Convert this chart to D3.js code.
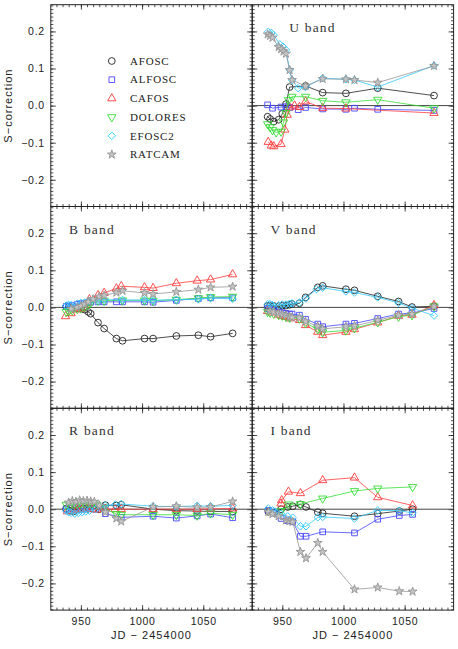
<!DOCTYPE html>
<html>
<head>
<meta charset="utf-8">
<script src="https://cdn.jsdelivr.net/npm/d3@7"></script>
<style>
  body { margin: 0; background: #fff; }
  svg { display: block; }
</style>
</head>
<body>
<svg id="chart" width="458" height="649"></svg>
<script>
"use strict";

//// data: [JD - 2454000, S-correction], series order follows `instruments`
const instruments = ["AFOSC", "ALFOSC", "CAFOS", "DOLORES", "EFOSC2", "RATCAM"];
const bandLabels = ["U band", "B band", "V band", "R band", "I band"];
const xTickValues = [950, 1000, 1050];
const yTickValues = [-0.2, -0.1, 0.0, 0.1, 0.2];

const bandU = [
    [[938,-0.030],[940,-0.036],[943,-0.043],[947,-0.038],[950,-0.022],[953,0.004],[956,0.050],[969,0.053],[983,0.035],[1002,0.033],[1028,0.047],[1074,0.027]],
    [[938,0.002],[942,-0.007],[949,-0.004],[953,-0.003],[956,-0.005],[963,-0.011],[969,-0.005],[983,-0.009],[1002,-0.010],[1009,-0.007],[1028,-0.010],[1074,-0.013]],
    [[938.5,-0.098],[941,-0.108],[943,-0.110],[949,-0.104],[952,-0.065],[954,-0.025],[956,-0.005],[960,0.000],[964,-0.004],[969,0.011],[983,-0.007],[1002,-0.008],[1074,-0.020]],
    [[938,-0.050],[940,-0.058],[942,-0.066],[945,-0.072],[949,-0.070],[951,-0.045],[953,-0.020],[955,0.015],[958,0.024],[969,0.024],[983,0.013],[1002,0.009],[1028,0.016],[1074,-0.007]],
    [[938.5,0.199],[941,0.196],[943,0.190],[948,0.165],[950.5,0.159],[953,0.150],[956,0.096],[958,0.069],[963,0.047],[969,0.050],[983,0.074],[1002,0.071],[1009,0.069],[1028,0.050],[1074,0.108]],
    [[938,0.192],[940,0.188],[942,0.183],[947,0.158],[949,0.152],[951,0.146],[953,0.140],[956,0.096],[958,0.069],[969,0.053],[983,0.072],[1002,0.071],[1009,0.069],[1028,0.062],[1074,0.107]]
];

const bandB = [
    [[938,0.003],[940,0.001],[943,-0.001],[947,-0.002],[950,-0.003],[953,-0.006],[956,-0.012],[958,-0.017],[964,-0.041],[969,-0.057],[979,-0.084],[984,-0.090],[1002,-0.084],[1009,-0.084],[1028,-0.077],[1046,-0.075],[1056,-0.079],[1074,-0.070]],
    [[938,0.002],[940,0.004],[943,0.005],[947,0.008],[950,0.010],[953,0.011],[956,0.013],[958,0.014],[964,0.015],[969,0.015],[979,0.015],[984,0.015],[1002,0.015],[1009,0.014],[1028,0.019],[1046,0.024],[1056,0.026],[1074,0.026]],
    [[937.5,-0.024],[942,-0.016],[947,-0.006],[950,-0.004],[953,0.006],[957,0.022],[964,0.033],[969,0.039],[979,0.051],[983,0.057],[1002,0.054],[1009,0.052],[1028,0.065],[1045,0.072],[1056,0.075],[1074,0.089]],
    [[938,-0.012],[940,-0.010],[943,-0.008],[947,-0.004],[950,-0.002],[953,0.001],[956,0.008],[958,0.013],[964,0.018],[969,0.018],[984,0.019],[1002,0.019],[1009,0.018],[1028,0.021],[1046,0.025],[1056,0.028],[1074,0.029]],
    [[938,0.005],[940,0.007],[942,0.006],[947,0.010],[950,0.012],[953,0.013],[956,0.016],[958,0.018],[964,0.020],[969,0.021],[984,0.020],[1002,0.020],[1009,0.019],[1028,0.021],[1046,0.022],[1056,0.025],[1074,0.023]],
    [[942,-0.004],[947,0.000],[950,0.004],[953,0.008],[956,0.015],[960,0.022],[965,0.029],[969,0.032],[979,0.040],[984,0.045],[1002,0.039],[1009,0.036],[1028,0.042],[1046,0.048],[1056,0.054],[1074,0.056]]
];

const bandV = [
    [[938,0.004],[940,0.005],[943,0.004],[947,0.003],[950,0.005],[953,0.005],[956,0.007],[958,0.009],[964,0.011],[969,0.027],[979,0.054],[983,0.058],[1002,0.049],[1009,0.046],[1028,0.030],[1045,0.016],[1056,0.001],[1074,0.003]],
    [[938,-0.003],[940,-0.006],[943,-0.008],[947,-0.012],[950,-0.014],[953,-0.016],[956,-0.018],[958,-0.018],[964,-0.021],[969,-0.032],[979,-0.045],[983,-0.052],[1002,-0.045],[1009,-0.043],[1028,-0.030],[1045,-0.018],[1056,-0.015],[1074,-0.003]],
    [[938,-0.010],[942,-0.014],[947,-0.020],[950,-0.024],[953,-0.026],[956,-0.030],[964,-0.034],[969,-0.048],[979,-0.066],[983,-0.075],[1002,-0.066],[1009,-0.059],[1028,-0.041],[1045,-0.023],[1056,-0.020],[1074,0.006]],
    [[938,-0.012],[940,-0.014],[943,-0.017],[947,-0.020],[950,-0.022],[953,-0.025],[956,-0.028],[964,-0.030],[969,-0.042],[979,-0.059],[983,-0.067],[1002,-0.062],[1009,-0.056],[1028,-0.040],[1045,-0.025],[1056,-0.021],[1074,0.003]],
    [[938,0.008],[940,0.009],[942,0.006],[947,0.006],[950,0.008],[953,0.008],[956,0.010],[958,0.011],[964,0.013],[969,0.024],[978,0.049],[983,0.053],[1002,0.043],[1009,0.040],[1028,0.027],[1045,0.012],[1056,-0.002],[1074,-0.022]],
    [[940,-0.010],[943,-0.013],[947,-0.016],[950,-0.019],[953,-0.022],[956,-0.025],[958,-0.027],[964,-0.028],[969,-0.038],[979,-0.051],[983,-0.058],[1002,-0.052],[1009,-0.050],[1028,-0.035],[1045,-0.021],[1056,-0.018],[1074,0.002]]
];

const bandR = [
    [[938,0.002],[941,-0.004],[944,-0.006],[948,0.000],[952,0.002],[956,0.003],[960,0.002],[965,0.000],[970,0.011],[979,0.010],[983,0.012],[1009,0.000],[1028,-0.004],[1045,-0.005],[1056,-0.006],[1074,-0.006]],
    [[938,0.000],[942,0.002],[946,0.004],[950,0.002],[954,0.000],[958,0.001],[962,0.000],[968,0.004],[970,-0.012],[983,-0.022],[1009,-0.019],[1028,-0.024],[1045,-0.018],[1056,-0.013],[1074,-0.023]],
    [[939,-0.006],[943,-0.004],[947,-0.002],[951,0.000],[955,0.001],[959,0.000],[963,-0.001],[970,0.001],[978,0.000],[983,0.000],[1009,0.000],[1028,0.000],[1045,0.000],[1056,0.001],[1074,0.002]],
    [[938,0.012],[941,0.010],[944,0.013],[947,0.014],[950,0.015],[953,0.016],[956,0.017],[959,0.014],[963,0.012],[968,0.004],[979,-0.013],[983,-0.015],[1009,-0.015],[1028,-0.015],[1045,-0.017],[1056,-0.011],[1074,-0.015]],
    [[938,-0.004],[940,-0.008],[942,-0.010],[945,-0.012],[948,-0.010],[951,-0.008],[954,-0.006],[957,-0.004],[962,0.000],[970,0.010],[978,0.012],[983,0.014],[1009,0.008],[1028,0.007],[1045,0.009],[1056,0.008],[1074,0.010]],
    [[940,0.018],[943,0.022],[946,0.020],[949,0.024],[952,0.022],[955,0.023],[958,0.021],[961,0.020],[965,0.010],[970,-0.008],[979,-0.025],[983,-0.033],[1009,0.006],[1028,0.008],[1045,0.005],[1056,0.006],[1074,0.021]]
];

const bandI = [
    [[938.6,-0.007],[943.5,-0.010],[949,0.000],[954.4,0.006],[958.5,0.008],[964.8,0.013],[969.4,0.006],[979,-0.008],[983,-0.011],[1009,-0.019],[1028,-0.012],[1045.6,-0.005],[1056.5,0.000]],
    [[938.6,-0.003],[943.5,-0.010],[949,-0.025],[954.4,-0.031],[958.5,-0.034],[964.8,-0.073],[969.4,-0.073],[983,-0.061],[1009,-0.064],[1028,-0.027],[1045.6,-0.017],[1056.5,-0.014]],
    [[949,0.015],[949.5,0.024],[955,0.047],[964.8,0.043],[983,0.078],[1009,0.085],[1028,0.032],[1056.5,0.010]],
    [[949,-0.005],[955,0.013],[964.8,0.014],[983,0.029],[1009,0.049],[1028,0.056],[1056.5,0.060]],
    [[938.6,0.002],[942,-0.003],[944,-0.006],[949,-0.012],[954.4,-0.019],[958.5,-0.023],[964.8,-0.046],[969.4,-0.046],[979,-0.022],[983,-0.021],[1009,-0.025],[1028,-0.003],[1045.6,-0.004],[1056.5,-0.010]],
    [[938.6,-0.007],[942,-0.013],[947,-0.019],[953,-0.030],[955.8,-0.032],[958.5,-0.034],[964.8,-0.115],[969.4,-0.132],[979,-0.091],[983,-0.115],[1009,-0.216],[1028,-0.211],[1045.6,-0.221],[1056.5,-0.222]]
];

(function () {
    //// layout
    const svg = d3.select("#chart");
    const left = 50.8, top = 4.7, panelW = 201.4, panelH = 201.8;
    const ink = "#222";
    const colors = ["#222222", "#4646ff", "#ff3b3b", "#35dd35", "#33c8ff", "#959595"];
    const markers = [
        { type: d3.symbolCircle, size: 36, rotate: 0 },
        { type: d3.symbolSquare, size: 32, rotate: 0 },
        { type: d3.symbolTriangle, size: 30, rotate: 0 },
        { type: d3.symbolTriangle, size: 30, rotate: 180 },
        { type: d3.symbolSquare, size: 28, rotate: 45 },
        { type: d3.symbolStar, size: 24, rotate: 0 }
    ];

    const x = d3.scaleLinear().domain([925.4, 1090]).range([0, panelW]);
    const y = d3.scaleLinear().domain([-0.272, 0.272]).range([panelH, 0]);
    const xMinor = d3.range(930, 1090, 5);
    const yMinor = d3.range(-27, 28).map(function (d) { return d / 100; });
    const yFormat = d3.format(".1f");

    function drawAxes(g, showY, showX) {
        const sides = [
            { axis: d3.axisLeft(y), ticks: [yTickValues, yMinor], t: null, label: showY ? yFormat : "" },
            { axis: d3.axisRight(y), ticks: [yTickValues, yMinor], t: [panelW, 0], label: "" },
            { axis: d3.axisTop(x), ticks: [xTickValues, xMinor], t: null, label: "" },
            { axis: d3.axisBottom(x), ticks: [xTickValues, xMinor], t: [0, panelH], label: showX ? d3.format("d") : "" }
        ];
        sides.forEach(function (s, i) {
            [0, 1].forEach(function (k) {
                const ag = g.append("g");
                if (s.t) ag.attr("transform", "translate(" + s.t[0] + "," + s.t[1] + ")");
                ag.call(s.axis.tickValues(s.ticks[k])
                        .tickSize(k === 0 ? -5 : -2.5)
                        .tickPadding(i === 3 ? 7.5 : 6)
                        .tickFormat(k === 0 ? s.label : ""))
                    .call(function (sel) { sel.select(".domain").remove(); })
                    .attr("font-family", "'Liberation Sans', Arial, sans-serif")
                    .attr("font-size", 10.5);
                ag.selectAll(".tick line").attr("stroke", ink).attr("stroke-width", 0.8);
                ag.selectAll(".tick text").attr("fill", ink).style("letter-spacing", "0.7px");
            });
        });
        g.append("rect")
            .attr("width", panelW).attr("height", panelH)
            .attr("fill", "none").attr("stroke", ink).attr("stroke-width", 1);
    }

    function marker(sel, i) {
        sel.attr("d", d3.symbol().type(markers[i].type).size(markers[i].size))
            .attr("fill", i === 5 ? "#c4c4c4" : "none")
            .attr("stroke", colors[i])
            .attr("stroke-width", 0.9);
    }

    function drawSeries(g, band) {
        g.append("line")
            .attr("x1", 0).attr("x2", panelW)
            .attr("y1", y(0)).attr("y2", y(0))
            .attr("stroke", "#444").attr("stroke-width", 1);

        const line = d3.line()
            .x(function (d) { return x(d[0]); })
            .y(function (d) { return y(d[1]); });

        band.forEach(function (pts, i) {
            g.append("path")
                .attr("d", line(pts))
                .attr("fill", "none")
                .attr("stroke", colors[i])
                .attr("stroke-width", 0.8);
            g.selectAll(".m" + i)
                .data(pts)
                .enter().append("path")
                    .attr("class", "m" + i)
                    .attr("transform", function (d) {
                        return "translate(" + x(d[0]) + "," + y(d[1]) + ") rotate(" + markers[i].rotate + ")";
                    })
                    .call(marker, i);
        });
    }

    function panel(col, row) {
        return svg.append("g")
            .attr("transform", "translate(" + (left + col * panelW) + "," + (top + row * panelH) + ")");
    }

    //// legend panel
    const legendPanel = panel(0, 0);
    drawAxes(legendPanel, true, false);
    instruments.forEach(function (name, i) {
        const ly = 56.3 + i * 18.7;
        legendPanel.append("path")
            .attr("transform", "translate(61," + ly + ") rotate(" + markers[i].rotate + ")")
            .call(marker, i);
        legendPanel.append("text")
            .attr("x", 79.2).attr("y", ly + 3.8)
            .attr("font-family", "'Liberation Serif', 'DejaVu Serif', serif")
            .attr("font-size", 11)
            .style("letter-spacing", "0.8px")
            .attr("fill", ink)
            .text(name);
    });

    //// band panels
    const bands = [
        { data: bandU, col: 1, row: 0, dx: 37 },
        { data: bandB, col: 0, row: 1, dx: 18.3 },
        { data: bandV, col: 1, row: 1, dx: 18.3 },
        { data: bandR, col: 0, row: 2, dx: 18.3 },
        { data: bandI, col: 1, row: 2, dx: 18.3 }
    ];
    bands.forEach(function (b, i) {
        const g = panel(b.col, b.row);
        drawAxes(g, b.col === 0, b.row === 2);
        drawSeries(g, b.data);
        g.append("text")
            .attr("x", b.dx).attr("y", 27)
            .attr("font-family", "'Liberation Serif', 'DejaVu Serif', serif")
            .attr("font-size", 13.5)
            .style("letter-spacing", "1.2px")
            .attr("fill", "#333")
            .text(bandLabels[i]);
    });

    //// axis titles
    [0, 1, 2].forEach(function (row) {
        svg.append("text")
            .attr("transform", "translate(11.5," + (top + row * panelH + panelH / 2) + ") rotate(-90)")
            .attr("text-anchor", "middle")
            .attr("font-family", "'Liberation Sans', Arial, sans-serif")
            .attr("font-size", 11)
            .style("letter-spacing", "1px")
            .attr("fill", ink)
            .text("S\u2212correction");
    });
    [0, 1].forEach(function (col) {
        svg.append("text")
            .attr("x", left + col * panelW + panelW / 2)
            .attr("y", top + 3 * panelH + 29)
            .attr("text-anchor", "middle")
            .attr("font-family", "'Liberation Sans', Arial, sans-serif")
            .attr("font-size", 11)
            .style("letter-spacing", "1px")
            .attr("fill", ink)
            .text("JD \u2212 2454000");
    });
})();
</script>
</body>
</html>
